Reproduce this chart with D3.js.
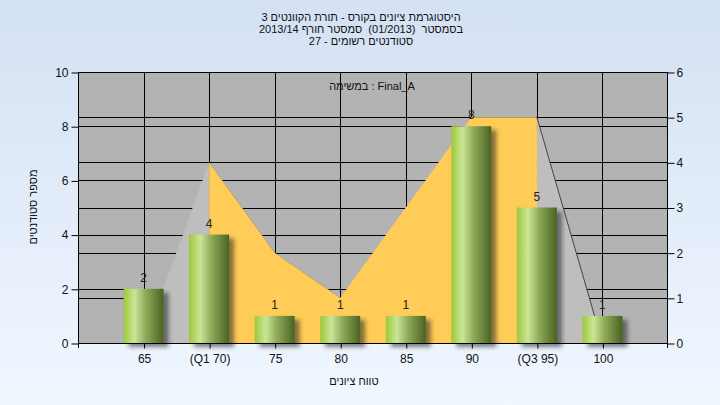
<!DOCTYPE html>
<html><head><meta charset="utf-8">
<script src="https://cdn.jsdelivr.net/npm/d3@7"></script>
<style>body{margin:0;}svg{display:block;}text{white-space:pre;}</style>
</head><body>
<script>
const categories = ["65", "(Q1 70)", "75", "80", "85", "90", "(Q3 95)", "100"];
const barValues = [2, 4, 1, 1, 1, 8, 5, 1];
const areaValues = [0, 4, 2, 1, 3, 5, 5, 0];
const leftTicks = [0, 2, 4, 6, 8, 10];
const rightTicks = [0, 1, 2, 3, 4, 5, 6];
const titleLines = [
  "היסטוגרמת ציונים בקורס - תורת הקוונטים 3",
  "בסמסטר  (01/2013)  סמסטר חורף 2013/14",
  "סטודנטים רשומים - 27"
];
const taskLabel = "במשימה : Final_A";
const xTitle = "טווח ציונים";
const yTitle = "מספר סטודנטים";

const W = 720, H = 405;
const L = 78, R = 668, T = 72, B = 343;
const font = "'Liberation Sans', Arial, sans-serif";

const svg = d3.select("body").append("svg").attr("width", W).attr("height", H);
const defs = svg.append("defs");
const bg = defs.append("linearGradient").attr("id", "bg").attr("x1", 0).attr("y1", 0).attr("x2", 0).attr("y2", 1);
bg.append("stop").attr("offset", 0).attr("stop-color", "#d4e1f3");
bg.append("stop").attr("offset", 1).attr("stop-color", "#f0f7ff");
const bar = defs.append("linearGradient").attr("id", "bar").attr("x1", 0).attr("y1", 0).attr("x2", 1).attr("y2", 0);
[[0, "#9cc93a"], [0.28, "#cbe596"], [0.55, "#8fab5a"], [1, "#4a6222"]].forEach(s =>
  bar.append("stop").attr("offset", s[0]).attr("stop-color", s[1]));
const f = defs.append("filter").attr("id", "sh").attr("x", "-20%").attr("y", "-20%").attr("width", "150%").attr("height", "150%");
f.append("feDropShadow").attr("dx", 5).attr("dy", 4).attr("stdDeviation", 2).attr("flood-color", "#222").attr("flood-opacity", 0.55);

svg.append("rect").attr("width", W).attr("height", H).attr("fill", "url(#bg)");

const x = d3.scalePoint().domain(categories).range([L, R]).padding(1);
const yL = d3.scaleLinear().domain([0, 10]).range([B, T]);
const yR = d3.scaleLinear().domain([0, 6]).range([B, T]);

svg.append("rect").attr("x", L).attr("y", T).attr("width", R - L).attr("height", B - T).attr("fill", "#b3b3b3");

const grid = svg.append("g").attr("stroke", "#000").attr("stroke-width", 1);
leftTicks.slice(1, -1).forEach(v => grid.append("line").attr("x1", L).attr("x2", R)
  .attr("y1", Math.round(yL(v)) + 0.5).attr("y2", Math.round(yL(v)) + 0.5));
rightTicks.slice(1, -1).forEach(v => grid.append("line").attr("x1", L).attr("x2", R)
  .attr("y1", Math.round(yR(v)) + 0.5).attr("y2", Math.round(yR(v)) + 0.5));
categories.forEach(c => grid.append("line").attr("y1", T).attr("y2", B)
  .attr("x1", Math.round(x(c)) + 0.5).attr("x2", Math.round(x(c)) + 0.5));

const pts = categories.map((c, i) => ({c, v: areaValues[i]}));
const area = d3.area().x(d => x(d.c)).y0(B).y1(d => yR(d.v));
const line = d3.line().x(d => x(d.c)).y(d => yR(d.v));
svg.append("path").attr("d", area(pts.slice(0, 2))).attr("fill", "#bebebe");
svg.append("path").attr("d", area(pts.slice(6, 8))).attr("fill", "#bebebe");
svg.append("path").attr("d", area(pts.slice(1, 7))).attr("fill", "#ffcc57");
svg.append("path").attr("d", line(pts.slice(6, 8))).attr("fill", "none").attr("stroke", "#444").attr("stroke-width", 1);
svg.append("path").attr("d", line(pts.slice(1, 4))).attr("fill", "none").attr("stroke", "#9a8a60").attr("stroke-width", 0.8).attr("opacity", 0.6);

const bw = 40;
svg.append("g").selectAll("rect").data(barValues).join("rect")
  .attr("x", (d, i) => x(categories[i]) - bw / 2)
  .attr("y", d => yL(d))
  .attr("width", bw)
  .attr("height", d => B - yL(d))
  .attr("fill", "url(#bar)")
  .attr("filter", "url(#sh)");

svg.append("g").selectAll("text").data(barValues).join("text")
  .attr("x", (d, i) => x(categories[i]))
  .attr("y", d => yL(d) - 7)
  .attr("text-anchor", "middle")
  .attr("font-family", font).attr("font-size", 12).attr("fill", "#222")
  .text(d => d);

svg.append("rect").attr("x", L + 0.5).attr("y", T + 0.5).attr("width", R - L - 1).attr("height", B - T)
  .attr("fill", "none").attr("stroke", "#000");
svg.append("line").attr("x1", L + 0.5).attr("x2", L + 0.5).attr("y1", B).attr("y2", B + 5).attr("stroke", "#000");
svg.append("line").attr("x1", R - 0.5).attr("x2", R - 0.5).attr("y1", B).attr("y2", B + 5).attr("stroke", "#000");

const styleAxis = g => {
  g.select(".domain").remove();
  g.selectAll("text").attr("font-family", font).attr("font-size", 12).attr("fill", "#111");
  g.selectAll(".tick line").attr("stroke", "#000");
};
svg.append("g").attr("transform", `translate(${L + 0.5},0.5)`)
  .call(d3.axisLeft(yL).tickValues(leftTicks).tickFormat(d3.format("d")).tickSize(7).tickPadding(3)).call(styleAxis);
svg.append("g").attr("transform", `translate(${R - 0.5},0.5)`)
  .call(d3.axisRight(yR).tickValues(rightTicks).tickFormat(d3.format("d")).tickSize(7).tickPadding(2)).call(styleAxis);
svg.append("g").attr("transform", `translate(0.5,${B + 0.5})`)
  .call(d3.axisBottom(x).tickSize(5).tickPadding(6)).call(styleAxis);

const tg = svg.append("g").attr("font-family", font).attr("font-size", 11).attr("fill", "#111")
  .attr("text-anchor", "middle");
[21, 33, 45].forEach((y, i) => tg.append("text").attr("x", 361).attr("y", y)
  .attr("xml:space", "preserve")
  .attr("direction", "rtl").attr("unicode-bidi", "embed").text(titleLines[i]));
tg.append("text").attr("x", 372).attr("y", 90).attr("direction", "ltr").text(taskLabel);
tg.append("text").attr("x", 354).attr("y", 385).attr("direction", "rtl").attr("unicode-bidi", "embed").text(xTitle);
tg.append("text").attr("transform", "translate(37,207) rotate(-90)").text(yTitle);
</script>
</body></html>
